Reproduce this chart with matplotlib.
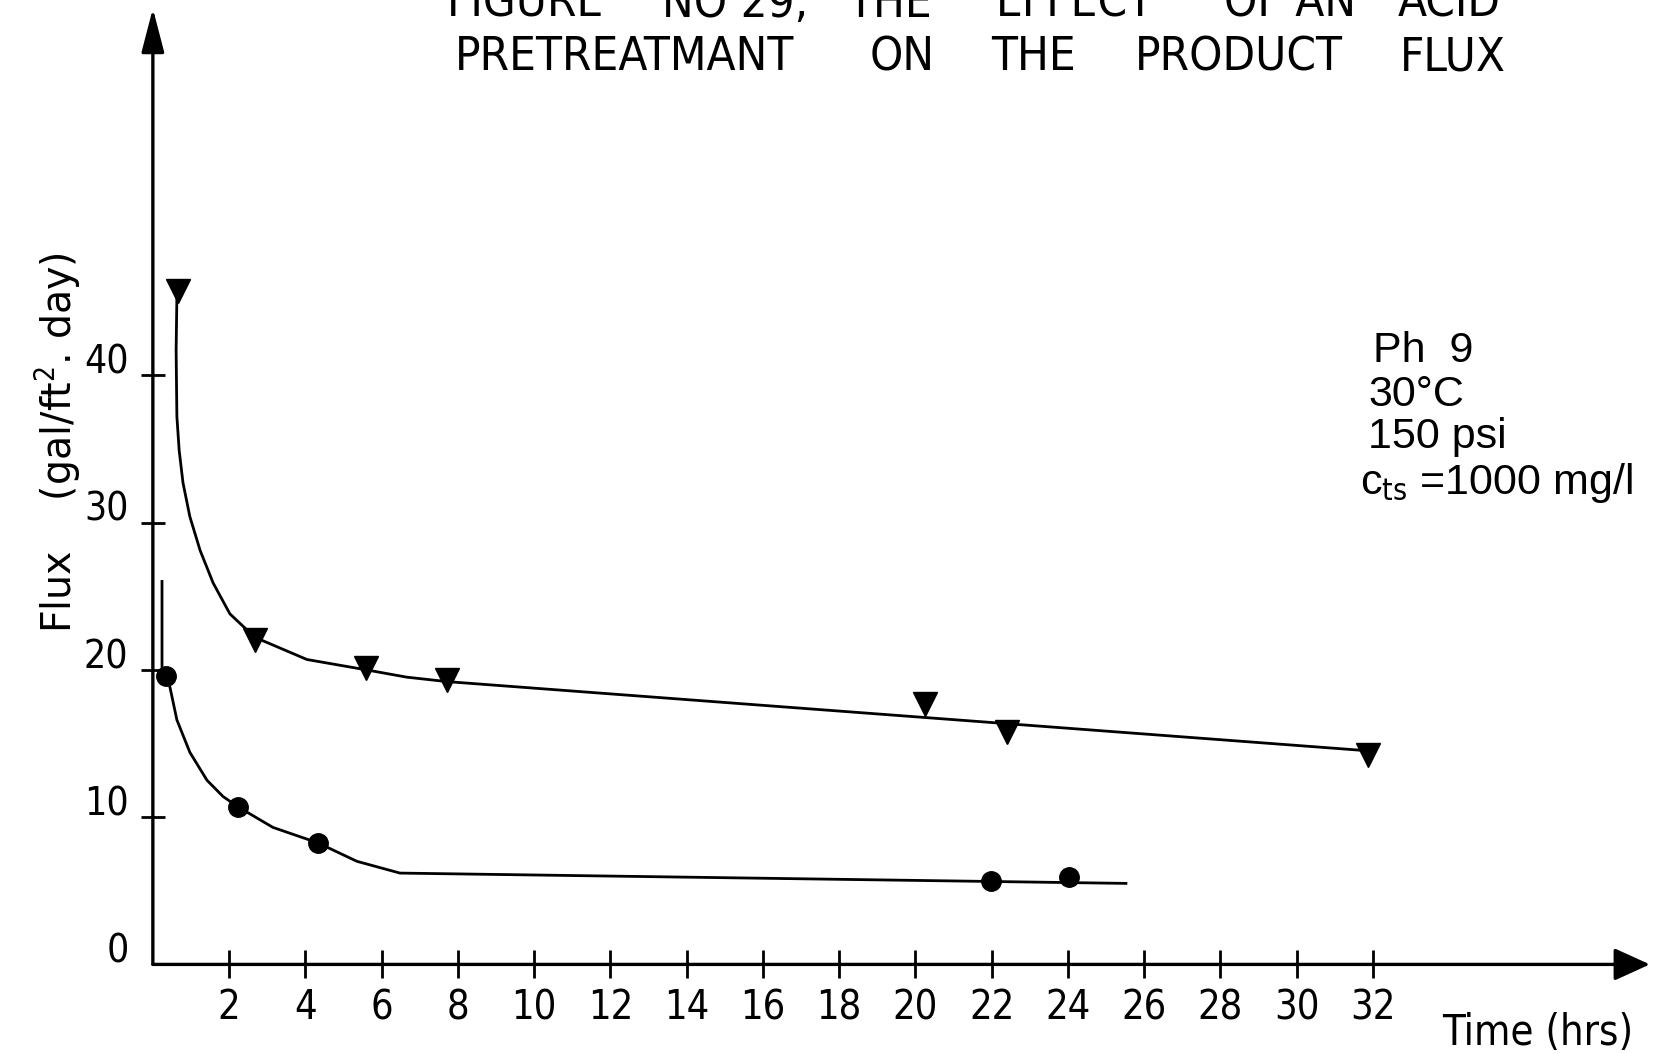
import matplotlib
matplotlib.use("Agg")
import matplotlib.pyplot as plt
from matplotlib import transforms

plt.rcParams["font.family"] = ["DejaVu Sans"]
plt.rcParams["font.stretch"] = "condensed"
plt.rcParams["mathtext.fontset"] = "dejavusans"

# ---- data ----
# measured points (triangles: series 1, circles: series 2)
time_tri = [0.66, 2.68, 5.59, 7.71, 20.24, 22.39, 31.88]
flux_tri = [45.7, 22.0, 20.1, 19.3, 17.7, 15.8, 14.2]
time_dot = [0.35, 2.23, 4.33, 21.98, 24.03]
flux_dot = [19.6, 10.7, 8.25, 5.65, 5.94]

curve_tri_t = [0.63, 0.61, 0.63, 0.69, 0.79, 0.97, 1.24, 1.58, 2.02, 2.47, 2.68,
               4.04, 5.59, 6.66, 7.71, 31.88]
curve_tri_f = [45.3, 41.7, 37.2, 34.9, 32.7, 30.4, 28.1, 25.9, 23.8, 22.7, 22.2,
               20.7, 20.0, 19.5, 19.2, 14.5]
curve_dot_t = [0.24, 0.24, 0.35, 0.45, 0.63, 0.97, 1.42, 1.84, 2.23, 3.15, 4.33,
               5.35, 6.48, 25.52]
curve_dot_f = [26.0, 20.2, 19.6, 18.8, 16.6, 14.4, 12.5, 11.4, 10.7, 9.3, 8.25,
               7.0, 6.2, 5.5]

x_ticks = [2, 4, 6, 8, 10, 12, 14, 16, 18, 20, 22, 24, 26, 28, 30, 32]
x_ticklabels = [str(v) for v in x_ticks]
y_ticks = [0, 10, 20, 30, 40]
y_ticklabels = ["0", "10", "20", "30", "40"]

title_line1 = ["FIGURE", "NO 29,", "THE", "EFFECT", "OF AN", "ACID"]
title_line2 = ["PRETREATMANT", "ON", "THE", "PRODUCT", "FLUX"]
conditions = ["Ph  9", "30°C", "150 psi", r"c$_{\mathrm{ts}}$ =1000 mg/l"]

X_MAX, Y_MAX = 39.26, 64.9

# ---- figure ----
W, H = 1568.0, 1000.0  # reference layout units
fig = plt.figure(figsize=(16.53, 10.54), dpi=100)
ax = fig.add_axes([145 / W, 85 / H, 1420 / W, 907 / H])
ax.set_xlim(0, X_MAX)
ax.set_ylim(0, Y_MAX)
for s in ax.spines.values():
    s.set_visible(False)

# axes with arrow heads
ax.annotate("", xy=(X_MAX, 0), xytext=(0, 0), annotation_clip=False,
            arrowprops=dict(arrowstyle="-|>,head_length=1.1,head_width=0.5",
                            mutation_scale=20, lw=2.4, color="black",
                            shrinkA=0, shrinkB=0))
ax.annotate("", xy=(0, Y_MAX), xytext=(0, 0), annotation_clip=False,
            arrowprops=dict(arrowstyle="-|>,head_length=1.35,head_width=0.35",
                            mutation_scale=20, lw=2.4, color="black",
                            shrinkA=0, shrinkB=0))

# ticks
ax.set_xticks(x_ticks)
ax.set_xticklabels(x_ticklabels)
ax.set_yticks(y_ticks)
ax.set_yticklabels(y_ticklabels)
ax.tick_params(axis="x", direction="inout", length=20, width=2, pad=7, labelsize=28.5)
ax.tick_params(axis="y", direction="inout", length=17, width=2, pad=9, labelsize=28)
ax.yaxis.get_major_ticks()[0].tick1line.set_visible(False)
shift = transforms.ScaledTranslation(0, 12 / 72, fig.dpi_scale_trans)
for lab in ax.get_yticklabels():
    lab.set_transform(lab.get_transform() + shift)

# curves and markers
ax.plot(curve_tri_t, curve_tri_f, color="black", lw=2.0, clip_on=False,
        solid_joinstyle="round")
ax.plot(curve_dot_t, curve_dot_f, color="black", lw=2.0, clip_on=False,
        solid_joinstyle="round")
ax.plot(time_tri, flux_tri, linestyle="none", marker="v", markersize=17,
        color="black", clip_on=False)
ax.plot(time_dot, flux_dot, linestyle="none", marker="o", markersize=14,
        color="black", clip_on=False)

# title words (spread out as on the drawing), centred on each word
line1_cx = [499, 697, 844, 1020, 1224, 1375]
line2_cx = [592, 856, 980, 1175, 1378]
for word, px in zip(title_line1, line1_cx):
    fig.text(px / W, 1 - 4 / H, word, fontsize=34, ha="center", va="center")
for word, px in zip(title_line2, line2_cx):
    fig.text(px / W, 1 - 55 / H, word, fontsize=34, ha="center", va="center")

# operating conditions
cond_x = [1302, 1298, 1298, 1290]
cond_y = [333, 375, 415, 458]
for txt, px, py in zip(conditions, cond_x, cond_y):
    fig.text(px / W, 1 - py / H, txt, fontsize=31, ha="left", va="center",
             family=["Liberation Sans", "DejaVu Sans"], stretch="normal")

# axis labels
fig.text(55 / W, 1 - 420 / H, "Flux    (gal/ft$^{2}$. day)", fontsize=28.5,
         rotation=90, ha="center", va="center", stretch="normal")
fig.text(1368 / W, 1 - 980 / H, "Time (hrs)", fontsize=30, ha="left", va="center")

fig.savefig("out.png", dpi=100)
